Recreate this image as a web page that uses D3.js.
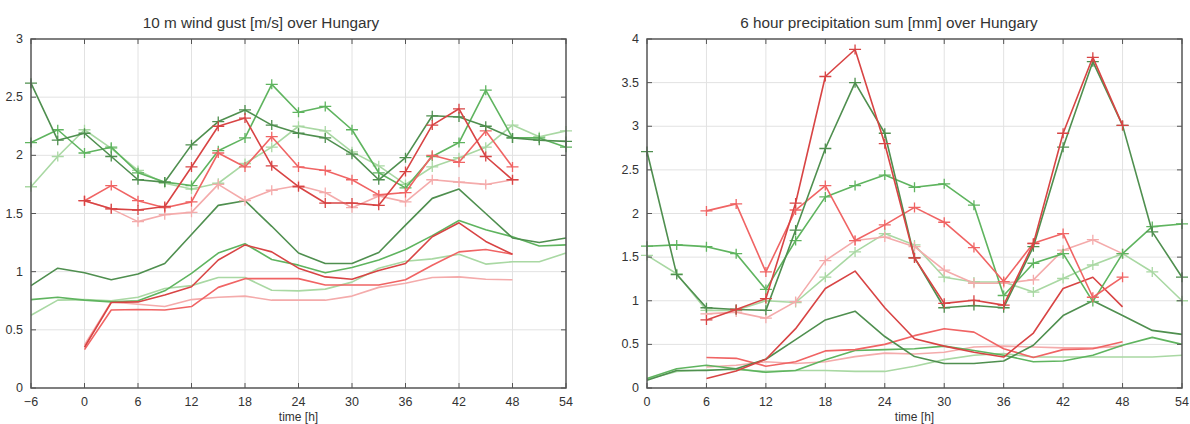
<!DOCTYPE html>
<html>
<head>
<meta charset="utf-8">
<script src="https://cdn.jsdelivr.net/npm/d3@7"></script>
<style>
  body { margin: 0; background: #fff; }
  svg text { font-family: "Liberation Sans", Arial, sans-serif; fill: #333; }
</style>
</head>
<body>
<svg id="chart" width="1190" height="424"></svg>
<script>
// ---- time axes ----
const gustHoursGreen = [-6, -3, 0, 3, 6, 9, 12, 15, 18, 21, 24, 27, 30, 33, 36, 39, 42, 45, 48, 51, 54];
const gustHoursRed = [0, 3, 6, 9, 12, 15, 18, 21, 24, 27, 30, 33, 36, 39, 42, 45, 48];
const precHoursGreen = [0, 3, 6, 9, 12, 15, 18, 21, 24, 27, 30, 33, 36, 39, 42, 45, 48, 51, 54];
const precHoursRed = [6, 9, 12, 15, 18, 21, 24, 27, 30, 33, 36, 39, 42, 45, 48];

// ---- wind gust, with markers ----
const gustDarkGreenMk = [2.62, 2.13, 2.19, 1.99, 1.79, 1.77, 2.09, 2.29, 2.39, 2.26, 2.19, 2.15, 2.01, 1.79, 1.98, 2.34, 2.33, 2.25, 2.15, 2.13, 2.12];
const gustMidGreenMk = [2.11, 2.22, 2.02, 2.07, 1.85, 1.77, 1.74, 2.04, 2.15, 2.61, 2.37, 2.42, 2.22, 1.85, 1.72, 1.99, 2.11, 2.56, 2.15, 2.15, 2.07];
const gustLightGreenMk = [1.73, 1.99, 2.22, 2.06, 1.87, 1.76, 1.71, 1.76, 1.93, 2.07, 2.25, 2.21, 2.03, 1.91, 1.75, 1.90, 1.98, 2.07, 2.26, 2.16, 2.21];
const gustDarkRedMk = [1.61, 1.54, 1.53, 1.56, 1.90, 2.25, 2.32, 1.91, 1.73, 1.59, 1.59, 1.57, 1.86, 2.26, 2.40, 1.99, 1.79];
const gustMidRedMk = [1.61, 1.74, 1.61, 1.55, 1.60, 2.02, 1.90, 2.16, 1.90, 1.87, 1.79, 1.66, 1.68, 2.00, 1.94, 2.21, 1.90];
const gustPinkMk = [1.61, 1.54, 1.43, 1.49, 1.51, 1.75, 1.61, 1.70, 1.74, 1.68, 1.55, 1.65, 1.60, 1.79, 1.77, 1.75, 1.79];

// ---- wind gust, plain lines ----
const gustDarkGreen = [0.88, 1.03, 0.99, 0.93, 0.98, 1.07, 1.32, 1.57, 1.61, 1.39, 1.16, 1.07, 1.07, 1.165, 1.40, 1.63, 1.71, 1.50, 1.29, 1.25, 1.29];
const gustMidGreen = [0.76, 0.78, 0.755, 0.74, 0.75, 0.835, 0.985, 1.16, 1.24, 1.105, 1.056, 0.99, 1.036, 1.10, 1.19, 1.31, 1.44, 1.36, 1.30, 1.22, 1.23];
const gustLightGreen = [0.625, 0.755, 0.76, 0.75, 0.78, 0.855, 0.88, 0.95, 0.95, 0.84, 0.835, 0.85, 0.91, 1.03, 1.09, 1.11, 1.15, 1.065, 1.085, 1.085, 1.16];
const gustDarkRed = [0.35, 0.735, 0.74, 0.80, 0.87, 1.10, 1.23, 1.17, 1.03, 0.955, 0.935, 1.01, 1.07, 1.30, 1.42, 1.26, 1.15];
const gustMidRed = [0.33, 0.67, 0.675, 0.67, 0.70, 0.865, 0.94, 0.94, 0.94, 0.885, 0.885, 0.885, 0.93, 1.055, 1.17, 1.19, 1.15];
const gustPink = [0.37, 0.74, 0.72, 0.70, 0.76, 0.78, 0.79, 0.755, 0.755, 0.755, 0.79, 0.865, 0.90, 0.95, 0.955, 0.935, 0.93];

// ---- precipitation, with markers ----
const precDarkGreenMk = [2.71, 1.30, 0.92, 0.90, 0.89, 1.81, 2.745, 3.50, 2.92, 1.495, 0.92, 0.945, 0.92, 1.62, 2.76, 3.74, 3.01, 1.79, 1.27];
const precMidGreenMk = [1.625, 1.64, 1.62, 1.54, 1.13, 1.69, 2.19, 2.32, 2.44, 2.30, 2.34, 2.095, 1.06, 1.43, 1.54, 0.99, 1.54, 1.85, 1.88];
const precLightGreenMk = [1.52, 1.31, 0.89, 0.89, 1.0, 0.98, 1.27, 1.56, 1.77, 1.64, 1.27, 1.215, 1.215, 1.10, 1.255, 1.41, 1.54, 1.33, 1.0];
const precDarkRedMk = [0.78, 0.90, 1.025, 2.12, 3.57, 3.88, 2.80, 1.49, 0.97, 1.005, 0.95, 1.655, 2.92, 3.79, 3.01];
const precMidRedMk = [2.03, 2.11, 1.33, 2.04, 2.32, 1.69, 1.87, 2.07, 1.90, 1.61, 1.22, 1.66, 1.77, 1.04, 1.27];
const precPinkMk = [0.85, 0.87, 0.80, 0.99, 1.46, 1.69, 1.73, 1.62, 1.35, 1.20, 1.20, 1.24, 1.58, 1.70, 1.54];

// ---- precipitation, plain lines ----
const precDarkGreen = [0.09, 0.20, 0.20, 0.22, 0.33, 0.555, 0.78, 0.88, 0.59, 0.36, 0.28, 0.28, 0.31, 0.49, 0.83, 1.0, 0.83, 0.66, 0.615];
const precMidGreen = [0.11, 0.22, 0.26, 0.22, 0.18, 0.20, 0.325, 0.43, 0.44, 0.45, 0.48, 0.43, 0.375, 0.30, 0.31, 0.375, 0.49, 0.58, 0.50];
const precLightGreen = [0.10, 0.19, 0.21, 0.21, 0.19, 0.20, 0.20, 0.19, 0.19, 0.25, 0.325, 0.375, 0.395, 0.355, 0.355, 0.355, 0.355, 0.355, 0.375];
const precDarkRed = [0.11, 0.195, 0.33, 0.68, 1.14, 1.34, 0.92, 0.565, 0.48, 0.41, 0.355, 0.63, 1.14, 1.27, 0.93];
const precMidRed = [0.35, 0.34, 0.25, 0.30, 0.425, 0.44, 0.50, 0.60, 0.68, 0.64, 0.45, 0.35, 0.44, 0.45, 0.53];
const precPink = [0.24, 0.26, 0.30, 0.28, 0.30, 0.36, 0.40, 0.39, 0.41, 0.47, 0.48, 0.47, 0.46, 0.46, 0.48];

const colors = {
    darkGreen: '#4f8f4f',
    midGreen: '#5fb45f',
    lightGreen: '#a9d8a3',
    darkRed: '#d84444',
    midRed: '#f06464',
    pink: '#f4abab'
};

const svg = d3.select('#chart');
svg.append('rect').attr('width', 1190).attr('height', 424).attr('fill', '#fff');

function drawPanel(opt) {
    const x = d3.scaleLinear().domain(opt.xDomain).range([opt.left, opt.right]);
    const y = d3.scaleLinear().domain(opt.yDomain).range([opt.bottom, opt.top]);
    const g = svg.append('g');

    // grid
    g.selectAll('.gx').data(opt.xTicks.slice(1, -1)).join('line')
        .attr('x1', d => x(d)).attr('x2', d => x(d))
        .attr('y1', opt.top).attr('y2', opt.bottom)
        .attr('stroke', '#e2e2e2').attr('stroke-width', 1);
    g.selectAll('.gy').data(opt.yTicks.slice(1, -1)).join('line')
        .attr('x1', opt.left).attr('x2', opt.right)
        .attr('y1', d => y(d)).attr('y2', d => y(d))
        .attr('stroke', '#e2e2e2').attr('stroke-width', 1);

    // series
    const line = d3.line().x(d => x(d[0])).y(d => y(d[1]));
    opt.series.forEach(s => {
        const pts = s.hours.map((h, i) => [h, s.values[i]]);
        g.append('path').datum(pts)
            .attr('d', line)
            .attr('fill', 'none')
            .attr('stroke', s.color)
            .attr('stroke-width', 1.6)
            .attr('stroke-linejoin', 'round');
        if (s.marker) {
            g.append('g').selectAll('path').data(pts).join('path')
                .attr('d', d => `M${x(d[0]) - 6},${y(d[1])}h12M${x(d[0])},${y(d[1]) - 5}v10`)
                .attr('stroke', s.color)
                .attr('stroke-width', 1.3);
        }
    });

    // frame
    g.append('rect')
        .attr('x', opt.left).attr('y', opt.top)
        .attr('width', opt.right - opt.left).attr('height', opt.bottom - opt.top)
        .attr('fill', 'none').attr('stroke', '#555').attr('stroke-width', 1.5);

    // ticks (inward, mirrored)
    const tk = g.append('g').attr('stroke', '#555').attr('stroke-width', 1);
    opt.xTicks.forEach(t => {
        tk.append('line').attr('x1', x(t)).attr('x2', x(t)).attr('y1', opt.bottom).attr('y2', opt.bottom - 5);
        tk.append('line').attr('x1', x(t)).attr('x2', x(t)).attr('y1', opt.top).attr('y2', opt.top + 5);
    });
    opt.yTicks.forEach(t => {
        tk.append('line').attr('x1', opt.left).attr('x2', opt.left + 5).attr('y1', y(t)).attr('y2', y(t));
        tk.append('line').attr('x1', opt.right).attr('x2', opt.right - 5).attr('y1', y(t)).attr('y2', y(t));
    });

    // tick labels
    g.selectAll('.xl').data(opt.xTicks).join('text')
        .attr('x', d => x(d)).attr('y', opt.bottom + 18)
        .attr('text-anchor', 'middle').attr('font-size', 12.5)
        .text(d => d < 0 ? '\u2212' + Math.abs(d) : d);
    g.selectAll('.yl').data(opt.yTicks).join('text')
        .attr('x', opt.left - 8).attr('y', d => y(d) + 4)
        .attr('text-anchor', 'end').attr('font-size', 12.5)
        .text(d => d);

    // titles
    g.append('text')
        .attr('x', opt.titleX).attr('y', 28)
        .attr('text-anchor', 'middle').attr('font-size', 15.3)
        .text(opt.title);
    g.append('text')
        .attr('x', (opt.left + opt.right) / 2).attr('y', 421)
        .attr('text-anchor', 'middle').attr('font-size', 12)
        .text('time [h]');
}

drawPanel({
    left: 31, right: 566, top: 39, bottom: 388,
    xDomain: [-6, 54], yDomain: [0, 3],
    xTicks: [-6, 0, 6, 12, 18, 24, 30, 36, 42, 48, 54],
    yTicks: [0, 0.5, 1, 1.5, 2, 2.5, 3],
    title: '10 m wind gust [m/s] over Hungary', titleX: 261,
    series: [
        { hours: gustHoursGreen, values: gustLightGreen, color: colors.lightGreen },
        { hours: gustHoursRed, values: gustPink, color: colors.pink },
        { hours: gustHoursGreen, values: gustMidGreen, color: colors.midGreen },
        { hours: gustHoursRed, values: gustMidRed, color: colors.midRed },
        { hours: gustHoursGreen, values: gustDarkGreen, color: colors.darkGreen },
        { hours: gustHoursRed, values: gustDarkRed, color: colors.darkRed },
        { hours: gustHoursGreen, values: gustLightGreenMk, color: colors.lightGreen, marker: true },
        { hours: gustHoursRed, values: gustPinkMk, color: colors.pink, marker: true },
        { hours: gustHoursGreen, values: gustMidGreenMk, color: colors.midGreen, marker: true },
        { hours: gustHoursRed, values: gustMidRedMk, color: colors.midRed, marker: true },
        { hours: gustHoursGreen, values: gustDarkGreenMk, color: colors.darkGreen, marker: true },
        { hours: gustHoursRed, values: gustDarkRedMk, color: colors.darkRed, marker: true }
    ]
});

drawPanel({
    left: 647, right: 1182, top: 39, bottom: 388,
    xDomain: [0, 54], yDomain: [0, 4],
    xTicks: [0, 6, 12, 18, 24, 30, 36, 42, 48, 54],
    yTicks: [0, 0.5, 1, 1.5, 2, 2.5, 3, 3.5, 4],
    title: '6 hour precipitation sum [mm] over Hungary', titleX: 889,
    series: [
        { hours: precHoursGreen, values: precLightGreen, color: colors.lightGreen },
        { hours: precHoursRed, values: precPink, color: colors.pink },
        { hours: precHoursGreen, values: precMidGreen, color: colors.midGreen },
        { hours: precHoursRed, values: precMidRed, color: colors.midRed },
        { hours: precHoursGreen, values: precDarkGreen, color: colors.darkGreen },
        { hours: precHoursRed, values: precDarkRed, color: colors.darkRed },
        { hours: precHoursGreen, values: precLightGreenMk, color: colors.lightGreen, marker: true },
        { hours: precHoursRed, values: precPinkMk, color: colors.pink, marker: true },
        { hours: precHoursGreen, values: precMidGreenMk, color: colors.midGreen, marker: true },
        { hours: precHoursRed, values: precMidRedMk, color: colors.midRed, marker: true },
        { hours: precHoursGreen, values: precDarkGreenMk, color: colors.darkGreen, marker: true },
        { hours: precHoursRed, values: precDarkRedMk, color: colors.darkRed, marker: true }
    ]
});
</script>
</body>
</html>
